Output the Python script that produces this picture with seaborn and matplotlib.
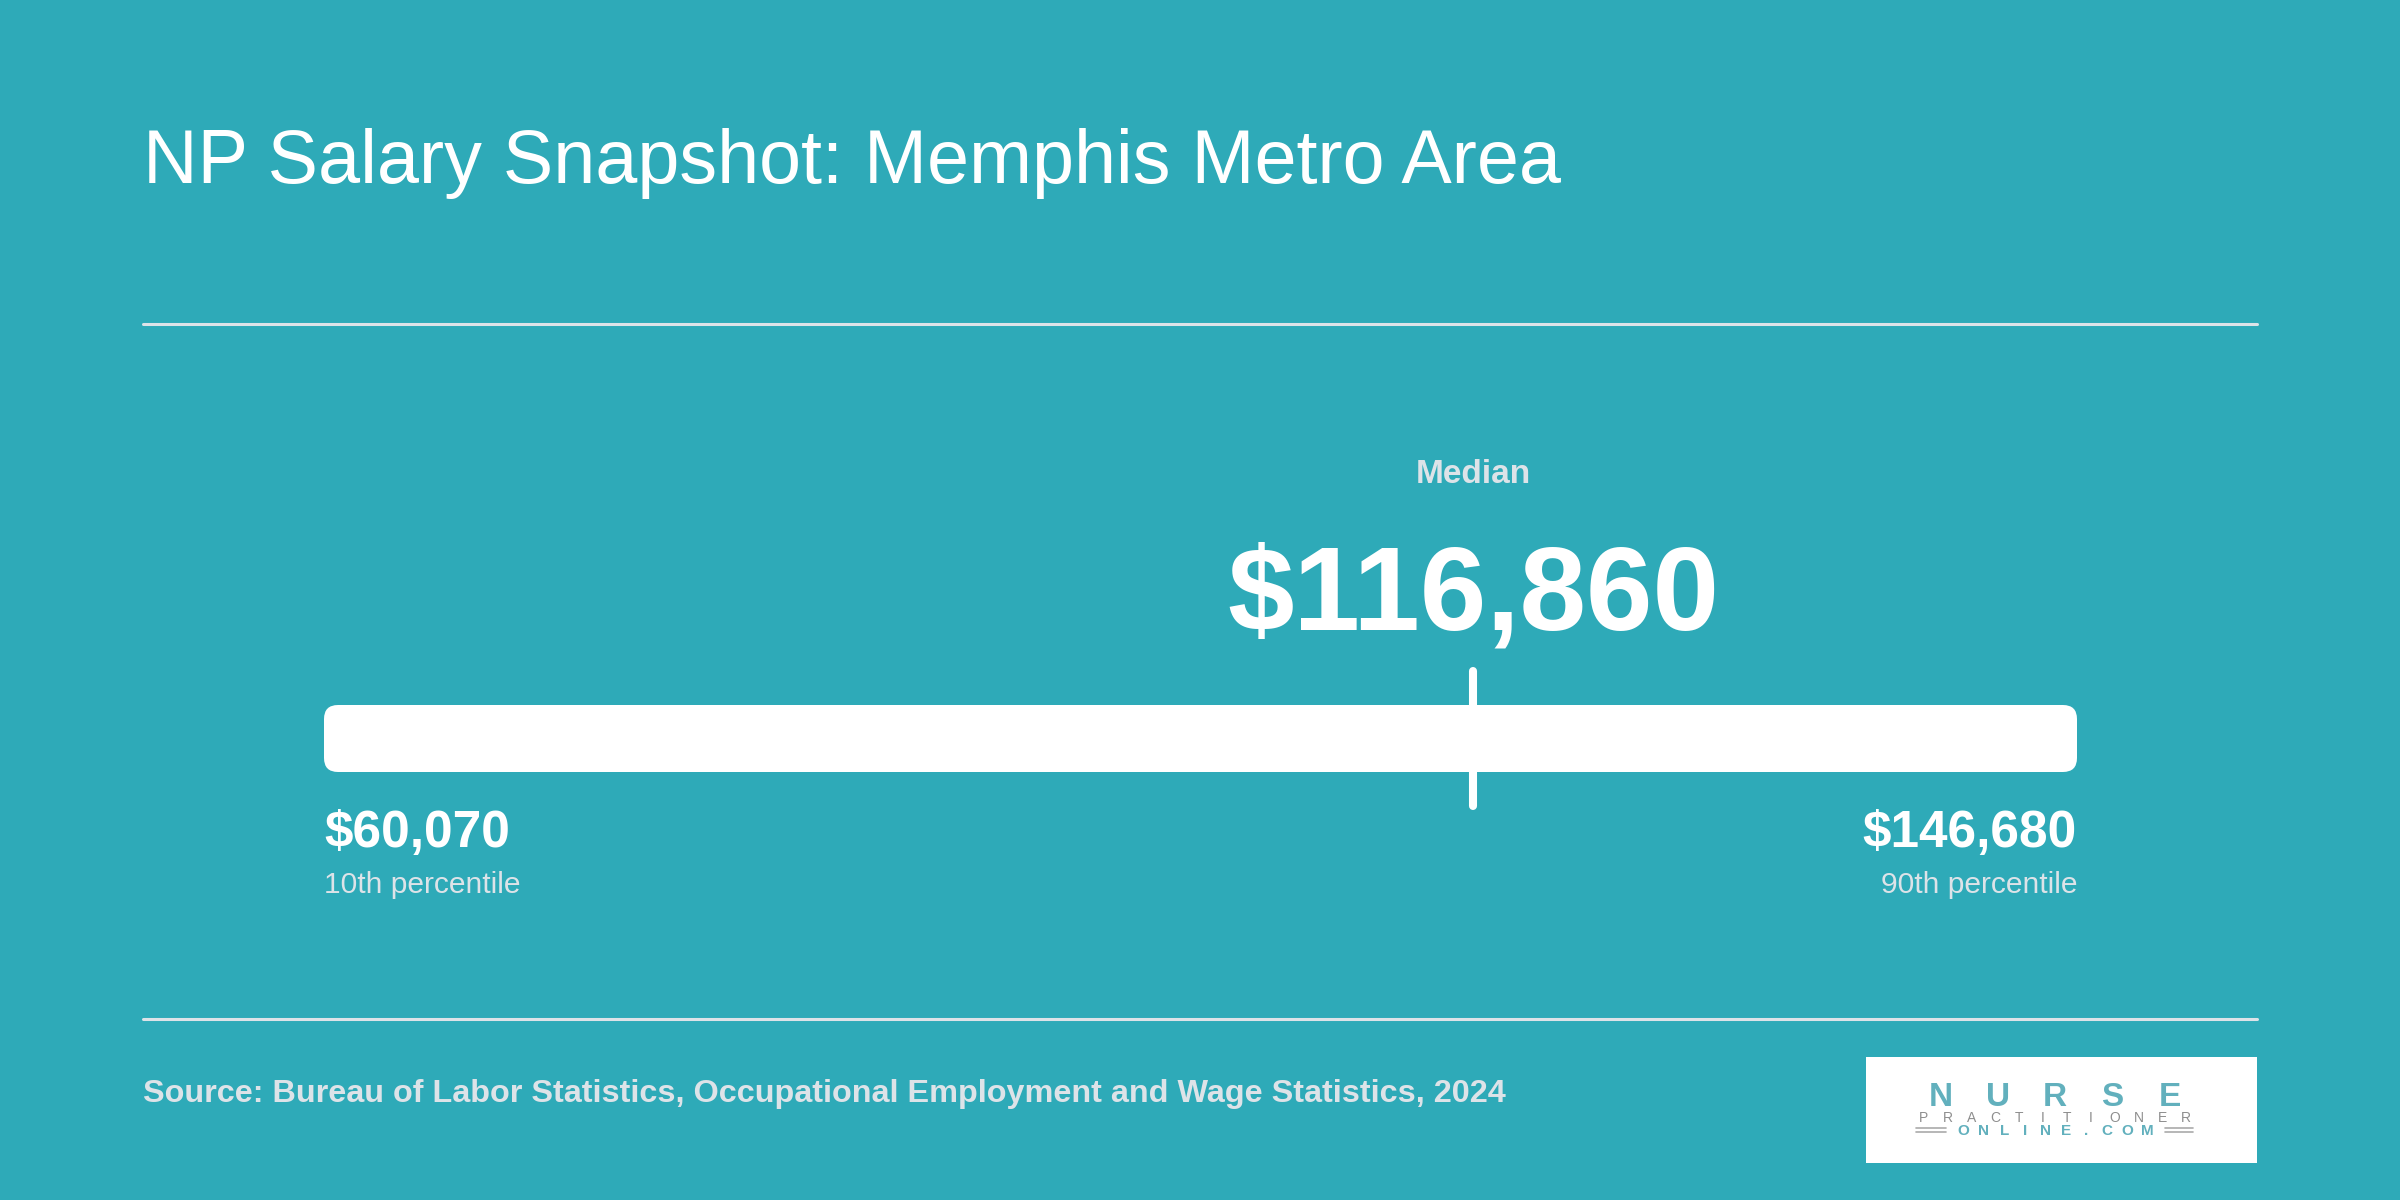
"""
NP salary snapshot for the Memphis metro area: percentile range bar with median marker.
"""
import matplotlib.pyplot as plt
import seaborn as sns
from matplotlib.lines import Line2D
from matplotlib.patches import FancyBboxPatch, Rectangle
from matplotlib.transforms import IdentityTransform

# data
PERCENTILE_LABELS = ["10th percentile", "Median", "90th percentile"]
PERCENTILE_VALUES = [60070, 116860, 146680]

TITLE = "NP Salary Snapshot: Memphis Metro Area"
SOURCE = "Source: Bureau of Labor Statistics, Occupational Employment and Wage Statistics, 2024"
LOGO_WORDS = ["NURSE", "PRACTITIONER", "ONLINE.COM"]

BG = "#2eaab8"
PALE = "#dde3e8"
LOGO_TEAL = "#62b0bd"
LOGO_GREY = "#8e8e8e"

W, H = 2400, 1200


def fx(px):
    return px / W


def fy(py):
    return 1 - py / H


def main() -> None:
    sns.set_theme(style="white")
    plt.rcParams["font.family"] = ["Liberation Sans", "DejaVu Sans"]

    p10, median, p90 = PERCENTILE_VALUES
    fig = plt.figure(figsize=(24, 12), dpi=100, facecolor=BG)

    # axes spans the bar horizontally; y data units == pixels from the top
    ax = fig.add_axes([fx(324), 0, fx(2077) - fx(324), 1])
    ax.set_xlim(p10, p90)
    ax.set_ylim(H, 0)
    ax.axis("off")
    ax.patch.set_alpha(0)

    # title and rules
    fig.text(fx(143), fy(183), TITLE, color="white", fontsize=54.4, va="baseline", ha="left")
    for y in (324, 1019):
        fig.add_artist(Line2D([fx(143), fx(2257)], [fy(y), fy(y)], color=PALE, lw=2.2))

    # range bar (rounded corners redrawn in pixel space)
    bars = ax.barh([738.5], [p90 - p10], left=p10, height=67, color="white")
    rect = bars.patches[0]
    pts = ax.transData.transform([[rect.get_x(), rect.get_y()],
                                  [rect.get_x() + rect.get_width(), rect.get_y() + rect.get_height()]])
    x0, x1 = sorted(pts[:, 0])
    y0, y1 = sorted(pts[:, 1])
    rect.set_visible(False)
    fig.add_artist(FancyBboxPatch((x0, y0), x1 - x0, y1 - y0,
                                  boxstyle="round,pad=0,rounding_size=14",
                                  transform=IdentityTransform(), fc="white", ec="none"))

    # median marker
    ax.plot([median, median], [671, 806], color="white", lw=5.8, solid_capstyle="round")
    ax.text(median, 483, PERCENTILE_LABELS[1], ha="center", va="baseline",
            color=PALE, fontsize=24, fontweight="bold")
    ax.text(median, 630, f"${median:,}", ha="center", va="baseline",
            color="white", fontsize=86, fontweight="bold")

    # end labels
    for val, lab, ha in ((p10, PERCENTILE_LABELS[0], "left"), (p90, PERCENTILE_LABELS[2], "right")):
        ax.text(val, 847, f"${val:,}", ha=ha, va="baseline", color="white",
                fontsize=37, fontweight="bold")
        ax.text(val, 893, lab, ha=ha, va="baseline", color=PALE, fontsize=21.6)

    # source
    fig.text(fx(143), fy(1102), SOURCE, color=PALE, fontsize=23.3, fontweight="bold",
             va="baseline", ha="left")

    # logo
    fig.add_artist(Rectangle((fx(1866), fy(1163)), fx(2257) - fx(1866), (1163 - 1057) / H,
                             transform=fig.transFigure, fc="white", ec="none"))
    nurse, pract, online = LOGO_WORDS

    def spread(word, left, right, base, size, color, weight):
        step = (right - left) / len(word)
        for i, ch in enumerate(word):
            fig.text(fx(left + step * (i + 0.5)), fy(base), ch, ha="center", va="baseline",
                     fontsize=size, color=color, fontweight=weight)

    spread(nurse, 1912, 2198, 1106, 24, LOGO_TEAL, "heavy")
    spread(pract, 1912, 2198, 1122, 10, LOGO_GREY, "normal")
    spread(online, 1953, 2158, 1135, 11, LOGO_TEAL, "bold")
    for xa, xb in ((1916, 1946), (2165, 2193)):
        for y in (1128, 1132):
            fig.add_artist(Line2D([fx(xa), fx(xb)], [fy(y), fy(y)], color="#aaaaaa", lw=1.2))

    fig.savefig("out.png", dpi=100, facecolor=BG)


if __name__ == "__main__":
    main()
